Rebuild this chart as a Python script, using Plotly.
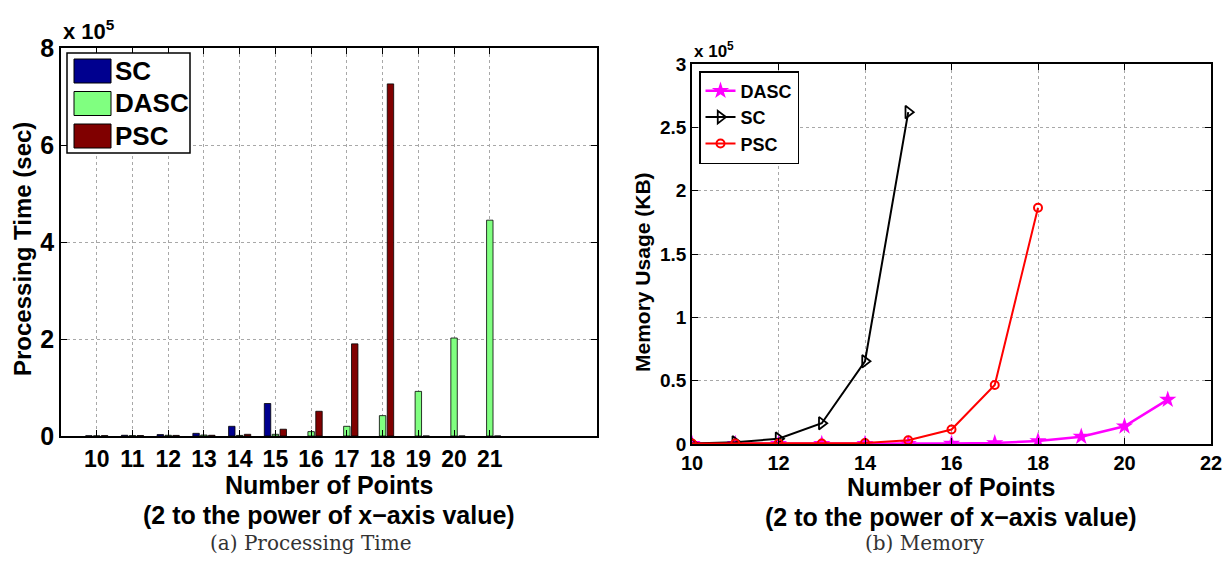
import plotly.graph_objects as go

# ---------------- data ----------------
pt_points = [10, 11, 12, 13, 14, 15, 16, 17, 18, 19, 20, 21]
pt_sc   = [500, 1500, 3000, 5500, 20000, 67000, None, None, None, None, None, None]
pt_dasc = [300, 800, 1500, 2000, 1200, 3500, 9000, 20000, 42000, 92000, 202000, 445000]
pt_psc  = [800, 1000, 1200, 1500, 3500, 14000, 51000, 190000, 726000, 0, 0, 0]

mem_x_dasc = [10, 11, 12, 13, 14, 15, 16, 17, 18, 19, 20, 21]
mem_dasc   = [100, 100, 100, 150, 200, 200, 300, 800, 2400, 5800, 14000, 35000]
mem_x_sc   = [10, 11, 12, 13, 14, 15]
mem_sc     = [400, 1300, 4200, 16400, 65300, 262000]
mem_x_psc  = [10, 11, 12, 13, 14, 15, 16, 17, 18]
mem_psc    = [300, 300, 300, 400, 800, 3000, 11400, 46600, 186500]

left_yticks = [0, 200000, 400000, 600000, 800000]
left_yticklabels = ["0", "2", "4", "6", "8"]
right_xticks = [10, 12, 14, 16, 18, 20, 22]
right_yticks = [0, 50000, 100000, 150000, 200000, 250000, 300000]
right_yticklabels = ["0", "0.5", "1", "1.5", "2", "2.5", "3"]

W, H = 1222, 561
FONT = "Liberation Sans"

def px(x):
    return x / W

def py(y):
    return 1 - y / H

SC_COL = "#00008F"
DASC_COL = "#80FF80"
PSC_COL = "#800000"

fig = go.Figure()

# ---------------- left: bars ----------------
for name, vals, col in [("SC", pt_sc, SC_COL), ("DASC", pt_dasc, DASC_COL), ("PSC", pt_psc, PSC_COL)]:
    fig.add_trace(go.Bar(x=pt_points, y=vals, name=name,
                         marker=dict(color=col, line=dict(color="black", width=0.8)),
                         xaxis="x", yaxis="y", showlegend=False))

# ---------------- right: lines ----------------
fig.add_trace(go.Scatter(x=mem_x_dasc, y=mem_dasc, name="DASC", mode="lines+markers",
                         line=dict(color="#FF00FF", width=2.5),
                         marker=dict(symbol="star", size=13, color="#FF00FF"),
                         xaxis="x2", yaxis="y2", legend="legend2"))
fig.add_trace(go.Scatter(x=mem_x_sc, y=mem_sc, name="SC", mode="lines+markers",
                         line=dict(color="black", width=2),
                         marker=dict(symbol="triangle-right-open", size=11, color="black", line=dict(width=1.8)),
                         xaxis="x2", yaxis="y2", legend="legend2"))
fig.add_trace(go.Scatter(x=mem_x_psc, y=mem_psc, name="PSC", mode="lines+markers",
                         line=dict(color="red", width=2),
                         marker=dict(symbol="circle-open", size=8, color="red", line=dict(width=2)),
                         xaxis="x2", yaxis="y2", legend="legend2"))

axis_common = dict(showline=True, linecolor="black", linewidth=1.5, mirror="ticks",
                   ticks="inside", ticklen=6, tickcolor="black", tickwidth=1,
                   showgrid=True, gridcolor="#a8a8a8", griddash="dot", gridwidth=1,
                   zeroline=False, automargin=False, ticklabeloverflow="allow")

left_x_dom = [px(61), px(597)]
left_y_dom = [py(436), py(48)]
right_x_dom = [px(692), px(1211)]
right_y_dom = [py(444), py(64)]

fig.update_layout(
    width=W, height=H,
    margin=dict(l=0, r=0, t=0, b=0, autoexpand=False),
    paper_bgcolor="white", plot_bgcolor="white",
    barmode="group", bargap=0.34, bargroupgap=0.18,
    font=dict(family=FONT, color="black"),
    xaxis=dict(domain=left_x_dom, range=[9, 24], tickvals=pt_points, anchor="y",
               ticklabelstandoff=2,
               tickfont=dict(size=23, family=FONT, weight="bold"), **axis_common),
    yaxis=dict(domain=left_y_dom, range=[0, 800000], tickvals=left_yticks, ticktext=left_yticklabels,
               anchor="x", tickfont=dict(size=25, family=FONT, weight="bold"), **axis_common),
    xaxis2=dict(domain=right_x_dom, range=[10, 22], tickvals=right_xticks, anchor="y2",
                ticklabelstandoff=0,
                tickfont=dict(size=20, family=FONT, weight="bold"), **axis_common),
    yaxis2=dict(domain=right_y_dom, range=[0, 300000], tickvals=right_yticks, ticktext=right_yticklabels,
                anchor="x2", tickfont=dict(size=19, family=FONT, weight="bold"), **axis_common),
    legend2=dict(x=px(699), y=py(71), xanchor="left", yanchor="top",
                 bordercolor="black", borderwidth=1.5, bgcolor="white",
                 font=dict(size=18, family=FONT, weight="bold"),
                 itemwidth=30, tracegroupgap=0),
)

annotations = []
shapes = []

def text(x, y, s, size, angle=0, family=FONT, bold=True, color="black", xanchor="center", yanchor="middle"):
    if bold:
        s = "<b>" + s + "</b>"
    annotations.append(dict(x=px(x), y=py(y), xref="paper", yref="paper", text=s, showarrow=False,
                            font=dict(size=size, family=family, color=color),
                            textangle=angle, xanchor=xanchor, yanchor=yanchor))

# axis titles
text(329, 485, "Number of Points", 25)
text(329, 515, "(2 to the power of x\u2212axis value)", 25)
text(951, 487, "Number of Points", 25)
text(951, 517, "(2 to the power of x\u2212axis value)", 25)
text(22, 249, "Processing Time (sec)", 24, angle=-90)
text(642, 272, "Memory Usage (KB)", 21, angle=-90)

# exponent labels
text(61, 30, "x 10<sup>5</sup>", 22, xanchor="left")
text(692, 50, "x 10<sup>5</sup>", 17, xanchor="left")

# captions
text(310, 543, "(a) Processing Time", 20, family="DejaVu Serif", bold=False, color="#333333")
text(925, 543, "(b) Memory", 20, family="DejaVu Serif", bold=False, color="#333333")

# custom legend for the bar chart
shapes.append(dict(type="rect", xref="paper", yref="paper", x0=px(67), x1=px(190), y0=py(153), y1=py(53),
                   line=dict(color="black", width=1.5), fillcolor="white", layer="above"))
for i, (name, col) in enumerate([("SC", SC_COL), ("DASC", DASC_COL), ("PSC", PSC_COL)]):
    cy = 71 + i * 32.5
    shapes.append(dict(type="rect", xref="paper", yref="paper", x0=px(74), x1=px(111),
                       y0=py(cy + 12), y1=py(cy - 12), line=dict(color="black", width=1),
                       fillcolor=col, layer="above"))
    text(113, cy, name, 26, xanchor="left")

fig.update_layout(annotations=annotations, shapes=shapes)

fig.write_html("out.html")
